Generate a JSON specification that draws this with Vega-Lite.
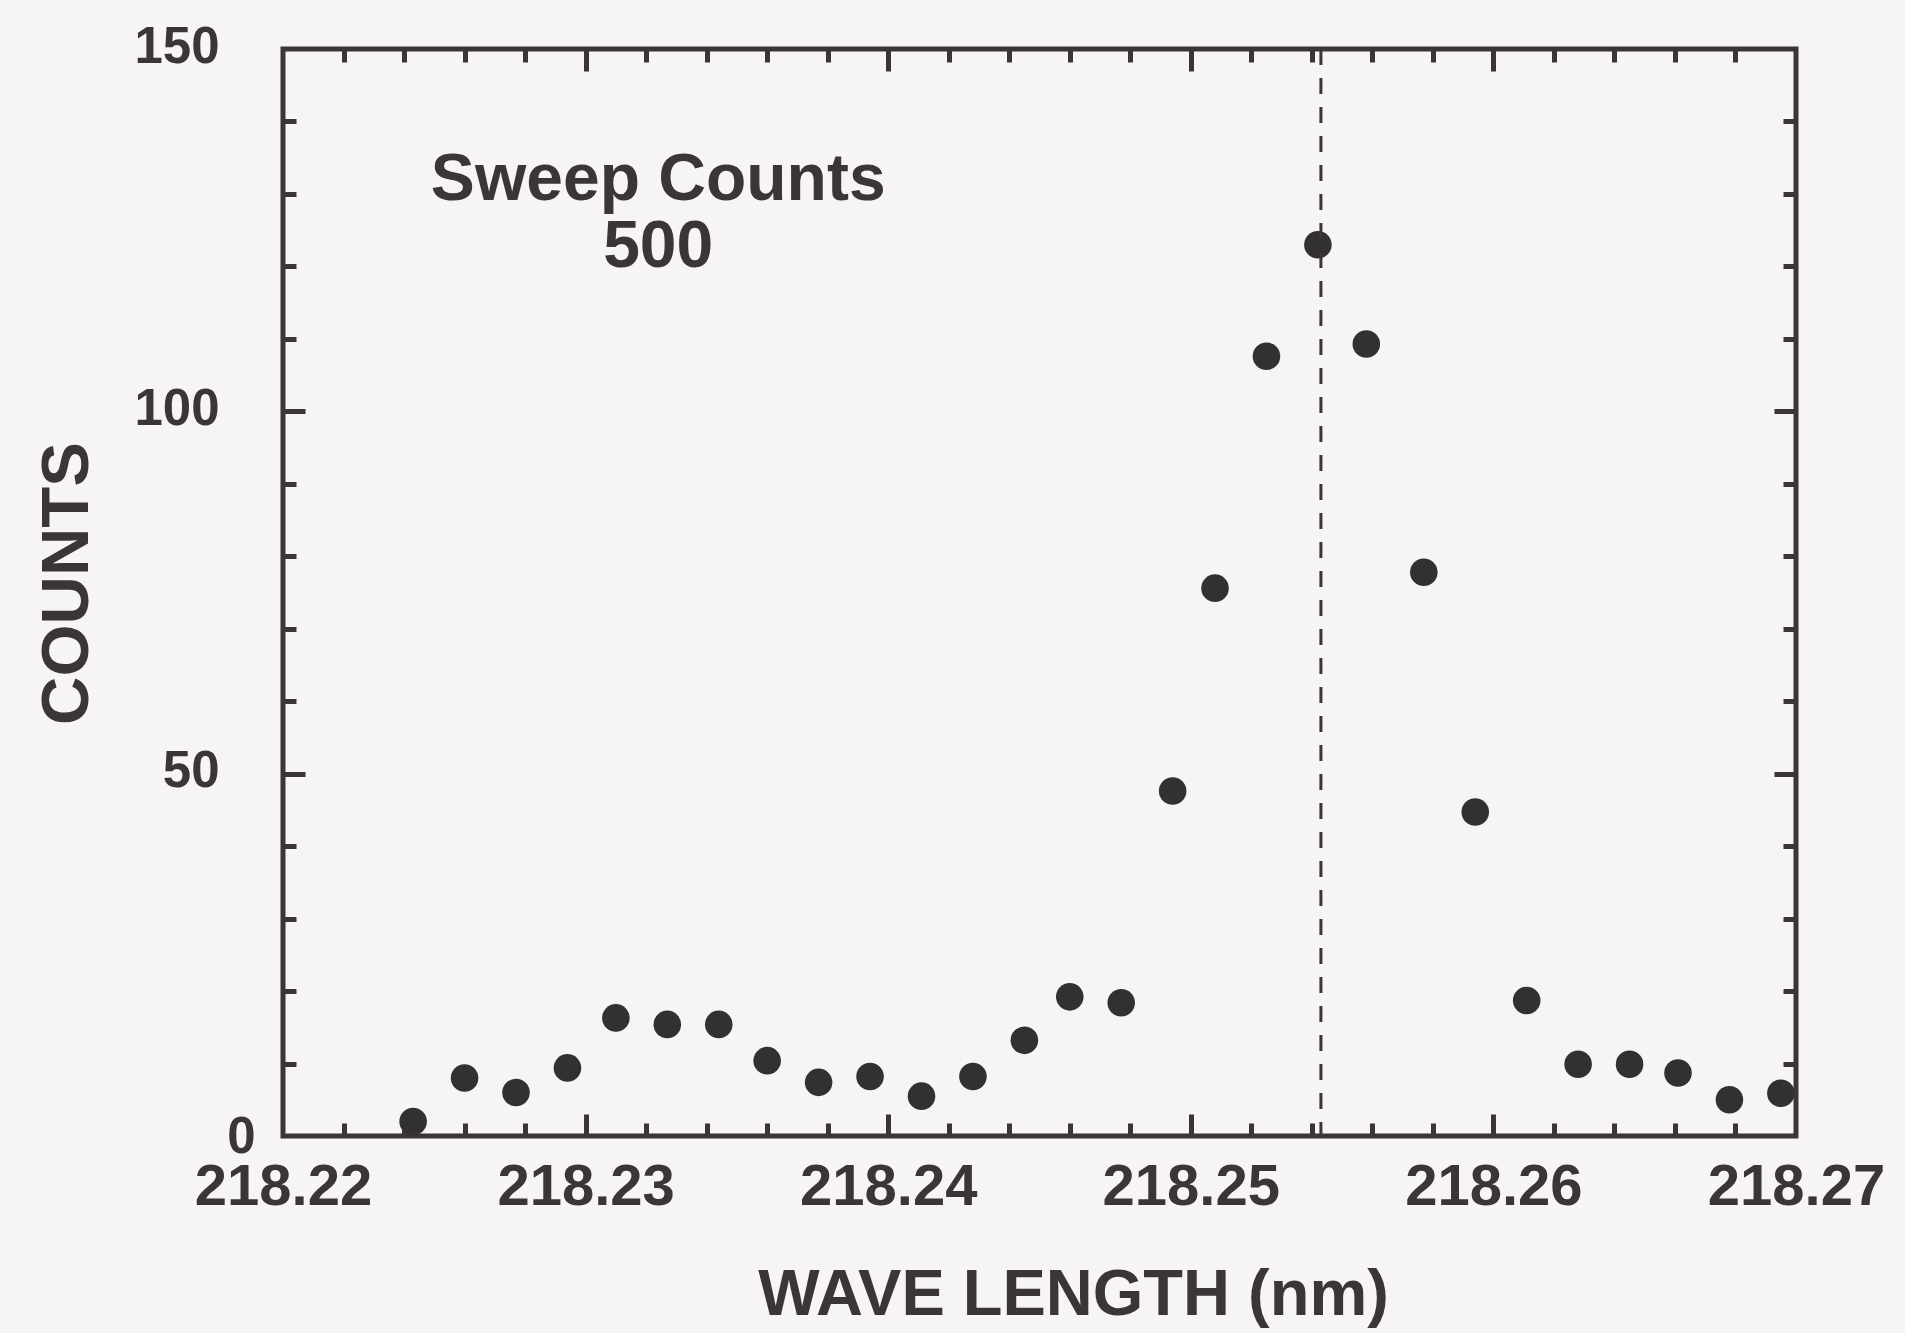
{
  "$schema": "https://vega.github.io/schema/vega-lite/v6.json",
  "width": 1513,
  "height": 1087,
  "autosize": {"type": "none"},
  "padding": {"left": 283, "top": 49, "right": 109, "bottom": 197},
  "background": "#f6f4f4",
  "config": {
    "view": {"stroke": "#3b3537", "strokeWidth": 5},
    "font": "Liberation Sans",
    "axis": {"grid": false, "domain": false, "tickColor": "#3b3537", "labelColor": "#3b3537", "titleColor": "#3b3537"}
  },
  "data": {
    "values": [
      {"wavelength": 218.2243, "counts": 2.0},
      {"wavelength": 218.2260, "counts": 8.0},
      {"wavelength": 218.2277, "counts": 6.0},
      {"wavelength": 218.2294, "counts": 9.4},
      {"wavelength": 218.2310, "counts": 16.3},
      {"wavelength": 218.2327, "counts": 15.4},
      {"wavelength": 218.2344, "counts": 15.4},
      {"wavelength": 218.2360, "counts": 10.4},
      {"wavelength": 218.2377, "counts": 7.4},
      {"wavelength": 218.2394, "counts": 8.2},
      {"wavelength": 218.2411, "counts": 5.5},
      {"wavelength": 218.2428, "counts": 8.2},
      {"wavelength": 218.2445, "counts": 13.2},
      {"wavelength": 218.2460, "counts": 19.2},
      {"wavelength": 218.2477, "counts": 18.4},
      {"wavelength": 218.2494, "counts": 47.6},
      {"wavelength": 218.2508, "counts": 75.6},
      {"wavelength": 218.2525, "counts": 107.6},
      {"wavelength": 218.2542, "counts": 123.0},
      {"wavelength": 218.2558, "counts": 109.3},
      {"wavelength": 218.2577, "counts": 77.8},
      {"wavelength": 218.2594, "counts": 44.7},
      {"wavelength": 218.2611, "counts": 18.7},
      {"wavelength": 218.2628, "counts": 9.9},
      {"wavelength": 218.2645, "counts": 9.9},
      {"wavelength": 218.2661, "counts": 8.7},
      {"wavelength": 218.2678, "counts": 5.0},
      {"wavelength": 218.2695, "counts": 5.9}
    ]
  },
  "layer": [
    {
      "mark": {"type": "circle", "size": 760, "opacity": 1, "color": "#333031"},
      "encoding": {
        "x": {
          "field": "wavelength", "type": "quantitative",
          "scale": {"domain": [218.22, 218.27], "nice": false, "zero": false},
          "axis": {
            "orient": "bottom", "values": [218.22, 218.23, 218.24, 218.25, 218.26, 218.27],
            "format": ".2f", "ticks": false, "labelFlush": false, "labelOverlap": false, "labelBound": false,
            "labelFontSize": 58, "labelFontWeight": "bold", "labelBaseline": "middle", "labelPadding": 51,
            "title": "WAVE LENGTH (nm)", "titleFontSize": 65, "titleFontWeight": "bold",
            "titleX": 790, "titleY": 158, "titleAlign": "center", "titleBaseline": "middle"
          }
        },
        "y": {
          "field": "counts", "type": "quantitative",
          "scale": {"domain": [0, 150], "nice": false, "zero": false},
          "axis": {
            "orient": "left", "values": [50, 100, 150],
            "ticks": false, "labelFlush": false, "labelOverlap": false, "labelBound": false,
            "labelFontSize": 51, "labelFontWeight": "bold", "labelBaseline": "middle", "labelPadding": 64, "labelOffset": -2,
            "title": "COUNTS", "titleFontSize": 67, "titleFontWeight": "bold", "titleAngle": -90,
            "titleX": -216, "titleY": 534, "titleAlign": "center", "titleBaseline": "middle"
          }
        }
      }
    },
    {
      "mark": {"type": "point", "opacity": 0},
      "encoding": {
        "x": {"field": "wavelength", "type": "quantitative", "axis": null},
        "y": {"field": "counts", "type": "quantitative",
          "axis": {
            "orient": "left", "values": [0], "ticks": false, "title": null,
            "labelFontSize": 51, "labelFontWeight": "bold", "labelBaseline": "middle", "labelAlign": "right",
            "labelPadding": 28, "labelOffset": 1, "labelFlush": false, "labelBound": false
          }}
      }
    },
    {
      "mark": {"type": "point", "opacity": 0},
      "encoding": {
        "x": {"field": "wavelength", "type": "quantitative",
          "axis": {"orient": "bottom", "values": [218.23, 218.24, 218.25, 218.26], "labels": false, "title": null, "tickSize": -22, "tickWidth": 5}},
        "y": {"field": "counts", "type": "quantitative",
          "axis": {"orient": "left", "values": [50, 100], "labels": false, "title": null, "tickSize": -22, "tickWidth": 5}}
      }
    },
    {
      "mark": {"type": "point", "opacity": 0},
      "encoding": {
        "x": {"field": "wavelength", "type": "quantitative",
          "axis": {"orient": "bottom", "values": [218.222, 218.224, 218.226, 218.228, 218.232, 218.234, 218.236, 218.238, 218.242, 218.244, 218.246, 218.248, 218.252, 218.254, 218.256, 218.258, 218.262, 218.264, 218.266, 218.268], "labels": false, "title": null, "tickSize": -13, "tickWidth": 5}},
        "y": {"field": "counts", "type": "quantitative",
          "axis": {"orient": "left", "values": [10, 20, 30, 40, 60, 70, 80, 90, 110, 120, 130, 140], "labels": false, "title": null, "tickSize": -13, "tickWidth": 5}}
      }
    },
    {
      "mark": {"type": "point", "opacity": 0},
      "encoding": {
        "x": {"field": "wavelength", "type": "quantitative",
          "axis": {"orient": "top", "values": [218.23, 218.24, 218.25, 218.26], "labels": false, "title": null, "tickSize": -22, "tickWidth": 5}},
        "y": {"field": "counts", "type": "quantitative",
          "axis": {"orient": "right", "values": [50, 100], "labels": false, "title": null, "tickSize": -22, "tickWidth": 5}}
      }
    },
    {
      "mark": {"type": "point", "opacity": 0},
      "encoding": {
        "x": {"field": "wavelength", "type": "quantitative",
          "axis": {"orient": "top", "values": [218.222, 218.224, 218.226, 218.228, 218.232, 218.234, 218.236, 218.238, 218.242, 218.244, 218.246, 218.248, 218.252, 218.254, 218.256, 218.258, 218.262, 218.264, 218.266, 218.268], "labels": false, "title": null, "tickSize": -13, "tickWidth": 5}},
        "y": {"field": "counts", "type": "quantitative",
          "axis": {"orient": "right", "values": [10, 20, 30, 40, 60, 70, 80, 90, 110, 120, 130, 140], "labels": false, "title": null, "tickSize": -13, "tickWidth": 5}}
      }
    },
    {
      "data": {"values": [{"peak": 218.2543}]},
      "mark": {"type": "rule", "strokeDash": [16, 13], "strokeWidth": 3, "color": "#3b3537"},
      "encoding": {
        "x": {"field": "peak", "type": "quantitative", "axis": null}
      }
    },
    {
      "data": {"values": [{"note": "Sweep Counts"}]},
      "mark": {"type": "text", "text": ["Sweep Counts", "500"], "lineHeight": 67, "fontSize": 66, "fontWeight": "bold", "align": "center", "baseline": "middle", "color": "#3b3537"},
      "encoding": {
        "x": {"datum": 218.2324, "type": "quantitative", "axis": null},
        "y": {"datum": 131.9, "type": "quantitative", "axis": null}
      }
    }
  ],
  "resolve": {"axis": {"x": "independent", "y": "independent"}}
}
